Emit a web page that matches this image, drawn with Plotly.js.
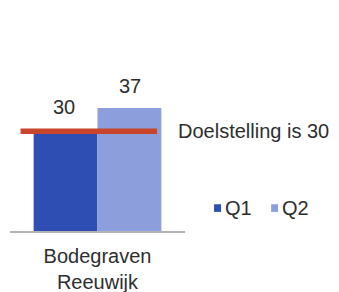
<!DOCTYPE html>
<html><head><meta charset="utf-8">
<script src="https://cdn.plot.ly/plotly-3.0.1.min.js"></script>
<style>html,body{margin:0;padding:0;background:#fff}#c{width:339px;height:292px}</style>
</head><body><div id="c"></div>
<script>
var categories = ['Bodegraven<br>Reeuwijk'];
var seriesNames = ['Q1', 'Q2'];
var seriesColors = ['#2f4eb4', '#8c9fdc'];
var q1Values = [30];
var q2Values = [37];
var target = 30;
var targetLabel = 'Doelstelling is ' + target;

var font = 'Liberation Sans, Arial, sans-serif';
var txt = '#2e2e2e';
var traces = [
  {type:'bar', name:seriesNames[0], x:categories, y:q1Values, marker:{color:seriesColors[0]}, hoverinfo:'none', showlegend:false},
  {type:'bar', name:seriesNames[1], x:categories, y:q2Values, marker:{color:seriesColors[1]}, hoverinfo:'none', showlegend:false}
];
var annotations = [
  {x:categories[0], y:q1Values[0], xref:'x', yref:'y', text:String(q1Values[0]), showarrow:false, xshift:-34, yshift:24, yanchor:'middle', font:{family:font,size:20,color:txt}},
  {x:categories[0], y:q2Values[0], xref:'x', yref:'y', text:String(q2Values[0]), showarrow:false, xshift:32, yshift:22, yanchor:'middle', font:{family:font,size:20,color:txt}},
  {x:0.954, y:target, xref:'paper', yref:'y', text:targetLabel, showarrow:false, xanchor:'left', yanchor:'middle', xshift:-1, font:{family:font,size:20,color:txt}}
];
// custom legend (small squares + labels)
var legX = [1.166, 1.492];
var shapes = [{type:'line', xref:'x', yref:'y', x0:-0.44, x1:0.34, y0:target, y1:target, line:{color:'#c8442a', width:5.5}}];
for (var i = 0; i < seriesNames.length; i++) {
  shapes.push({type:'rect', xref:'paper', yref:'paper', x0:legX[i], x1:legX[i]+0.04, y0:0.10, y1:0.14, fillcolor:seriesColors[i], line:{width:0}});
  annotations.push({x:legX[i]+0.057, y:0.12, xref:'paper', yref:'paper', text:seriesNames[i], showarrow:false, xanchor:'left', yanchor:'middle', xshift:-1, font:{family:font,size:20,color:txt}});
}
var layout = {
  width:339, height:292,
  margin:{l:10, r:154, t:40, b:61, autoexpand:false},
  paper_bgcolor:'#fff', plot_bgcolor:'#fff',
  barmode:'group', bargap:0.27, bargroupgap:0,
  showlegend:false,
  xaxis:{type:'category', showline:true, linecolor:'#b4b4b4', linewidth:2, ticks:'', tickfont:{family:font,size:20,color:txt}, ticklabelstandoff:6, fixedrange:true},
  yaxis:{range:[0,57.5], visible:false, showgrid:false, zeroline:false, fixedrange:true},
  shapes:shapes,
  annotations:annotations
};
Plotly.newPlot('c', traces, layout, {displayModeBar:false, staticPlot:true});
</script></body></html>
